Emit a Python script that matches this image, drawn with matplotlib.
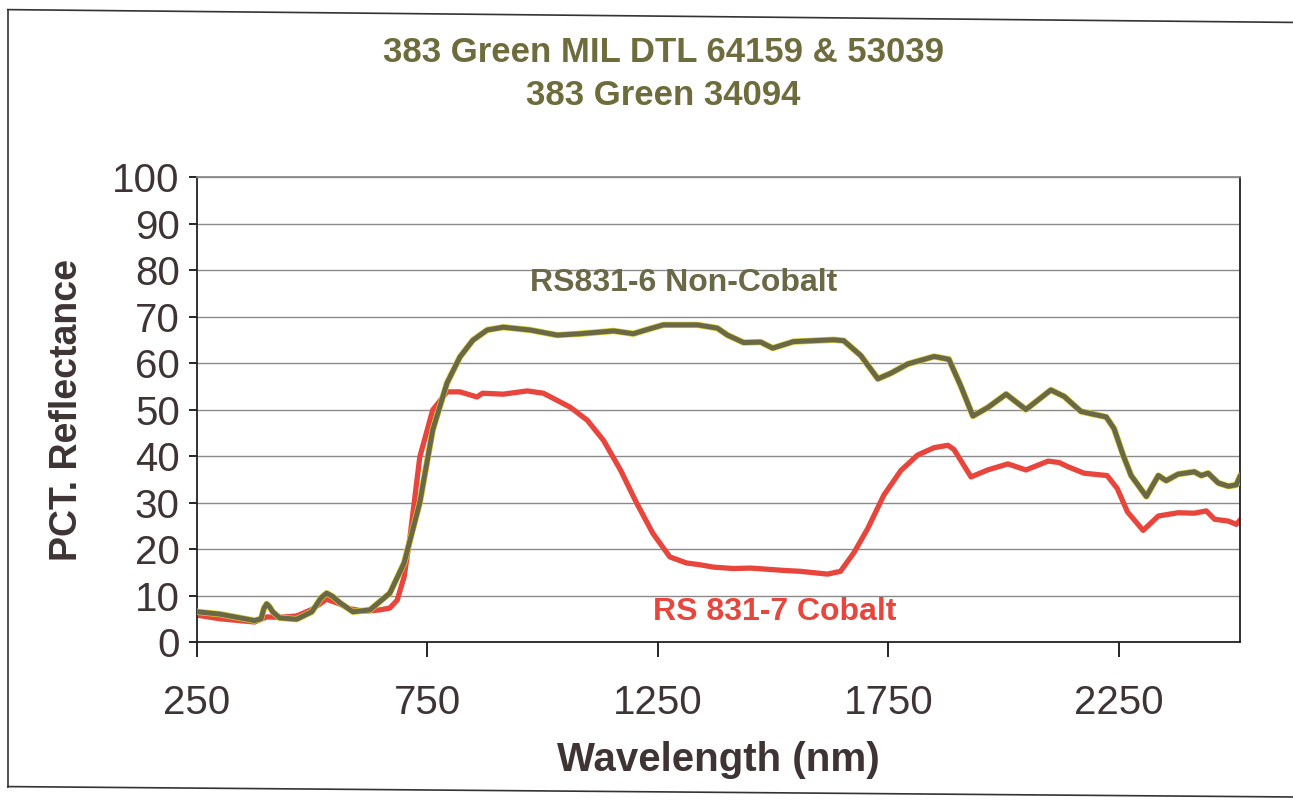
import numpy as np
import matplotlib
matplotlib.use('Agg')
import matplotlib.pyplot as plt
from matplotlib.lines import Line2D

plt.rcParams['font.family'] = ['Liberation Sans', 'DejaVu Sans']

# RS831-6 Non-Cobalt (olive curve)
olive_nm = [250, 300, 376, 390, 396, 402, 408, 415, 430, 467, 500, 520, 532, 545,
            560, 589, 626, 669, 700, 734, 762, 793, 821, 849, 880, 915, 973, 1032,
            1082, 1154, 1197, 1227, 1262, 1336, 1379, 1401, 1436, 1473, 1499, 1544,
            1631, 1653, 1690, 1727, 1755, 1792, 1849, 1881, 1907, 1933, 1965, 2005,
            2048, 2102, 2131, 2167, 2189, 2222, 2239, 2259, 2276, 2309, 2335, 2352,
            2378, 2413, 2428, 2443, 2465, 2487, 2504, 2512]
olive_pct = [6.5, 6.0, 4.6, 5.0, 7.2, 8.2, 7.6, 6.5, 5.2, 4.9, 6.5, 9.5, 10.5, 9.8,
             8.5, 6.5, 6.9, 10.5, 17.0, 30.0, 45.6, 55.7, 61.3, 64.9, 67.1, 67.7, 67.1, 66.0,
             66.3, 66.9, 66.3, 67.2, 68.2, 68.2, 67.5, 66.0, 64.4, 64.5, 63.2, 64.6,
             65.0, 64.8, 61.6, 56.6, 57.8, 59.8, 61.4, 60.8, 55.0, 48.6, 50.4, 53.3,
             50.0, 54.2, 52.8, 49.6, 49.1, 48.4, 45.9, 40.1, 35.8, 31.3, 35.8, 34.7,
             36.1, 36.6, 35.8, 36.3, 34.2, 33.5, 33.8, 35.6]

# RS 831-7 Cobalt (red curve)
red_nm = [250, 300, 376, 402, 430, 467, 500, 532, 560, 580, 613, 647, 669, 685,
          700, 712, 734, 762, 793, 821, 858, 870, 915, 967, 1002, 1060, 1097, 1132,
          1169, 1204, 1239, 1276, 1312, 1342, 1371, 1414, 1451, 1522, 1559, 1618,
          1646, 1675, 1705, 1740, 1777, 1813, 1849, 1879, 1892, 1929, 1965, 2009,
          2048, 2096, 2120, 2139, 2174, 2224, 2246, 2268, 2302, 2335, 2378, 2413,
          2439, 2457, 2487, 2504, 2512]
red_pct = [5.8, 5.0, 4.3, 5.4, 5.3, 5.6, 7.0, 9.2, 8.2, 7.2, 6.6, 6.9, 7.3, 9.0,
           14.0, 22.0, 39.8, 49.9, 53.8, 53.8, 52.7, 53.5, 53.3, 54.0, 53.5, 50.5, 47.7, 43.4,
           37.0, 29.9, 23.4, 18.3, 17.0, 16.6, 16.1, 15.8, 15.9, 15.4, 15.2, 14.6,
           15.2, 19.2, 24.4, 31.6, 36.9, 40.2, 41.8, 42.3, 41.4, 35.5, 37.0, 38.3,
           37.0, 38.9, 38.6, 37.7, 36.3, 35.8, 33.0, 28.0, 24.0, 27.1, 27.8, 27.7,
           28.2, 26.4, 26.0, 25.3, 26.2]

x_ticks = [250, 750, 1250, 1750, 2250]
y_ticks = list(range(0, 101, 10))

title_lines = ['383 Green MIL DTL 64159 & 53039', '383 Green 34094']

olive = '#6b6848'
red = '#e8453c'
dark = '#3f3434'

fig = plt.figure(figsize=(12.93, 8.01), dpi=100)
ax = fig.add_axes([0.152, 0.1985, 0.807, 0.5805])

ax.plot(olive_nm, olive_pct, color='#d8d030', lw=4.6, solid_joinstyle='round', zorder=3)
ax.plot(olive_nm, olive_pct, color=olive, lw=3.6, solid_joinstyle='round', zorder=4)
ax.plot(red_nm, red_pct, color=red, lw=3.8, solid_joinstyle='round', zorder=2)

ax.set_xlim(250, 2512)
ax.set_ylim(0, 100)
ax.set_xticks(x_ticks)
ax.set_yticks(y_ticks)
ax.grid(axis='y', color='#8a8a8a', lw=1.0)
ax.set_axisbelow(True)
for s in ax.spines.values():
    s.set_color('#222222')
    s.set_linewidth(1.3)
ax.spines['top'].set_color('#8a8a8a')

ax.tick_params(axis='x', direction='out', length=11, width=1.2, pad=19,
               labelsize=29, labelcolor=dark)
ax.tick_params(axis='y', direction='out', length=6, width=1.2, pad=6,
               labelsize=29, labelcolor=dark)

ax.set_xlabel('Wavelength (nm)', fontsize=29, fontweight='bold', color=dark, labelpad=14)
ax.set_ylabel('PCT. Reflectance', fontsize=27, fontweight='bold', color=dark, labelpad=20)

ax.text(973, 77.2, 'RS831-6 Non-Cobalt', color=olive, fontsize=23, fontweight='bold',
        ha='left', va='center')
ax.text(1240, 6.5, 'RS 831-7 Cobalt', color=red, fontsize=23, fontweight='bold',
        ha='left', va='center')

fig.text(0.513, 0.935, title_lines[0], color='#6e6c3c', fontsize=25, fontweight='bold',
         ha='center', va='center')
fig.text(0.513, 0.881, title_lines[1], color='#6e6c3c', fontsize=25, fontweight='bold',
         ha='center', va='center')

# scanned page border
fig.add_artist(Line2D([0.006, 1.0], [0.988, 0.972], color='#333333', lw=1.2))
fig.add_artist(Line2D([0.006, 0.006], [0.988, 0.018], color='#333333', lw=1.2))
fig.add_artist(Line2D([0.006, 1.0], [0.018, 0.005], color='#333333', lw=1.2))

fig.savefig('out.png', dpi=100)
